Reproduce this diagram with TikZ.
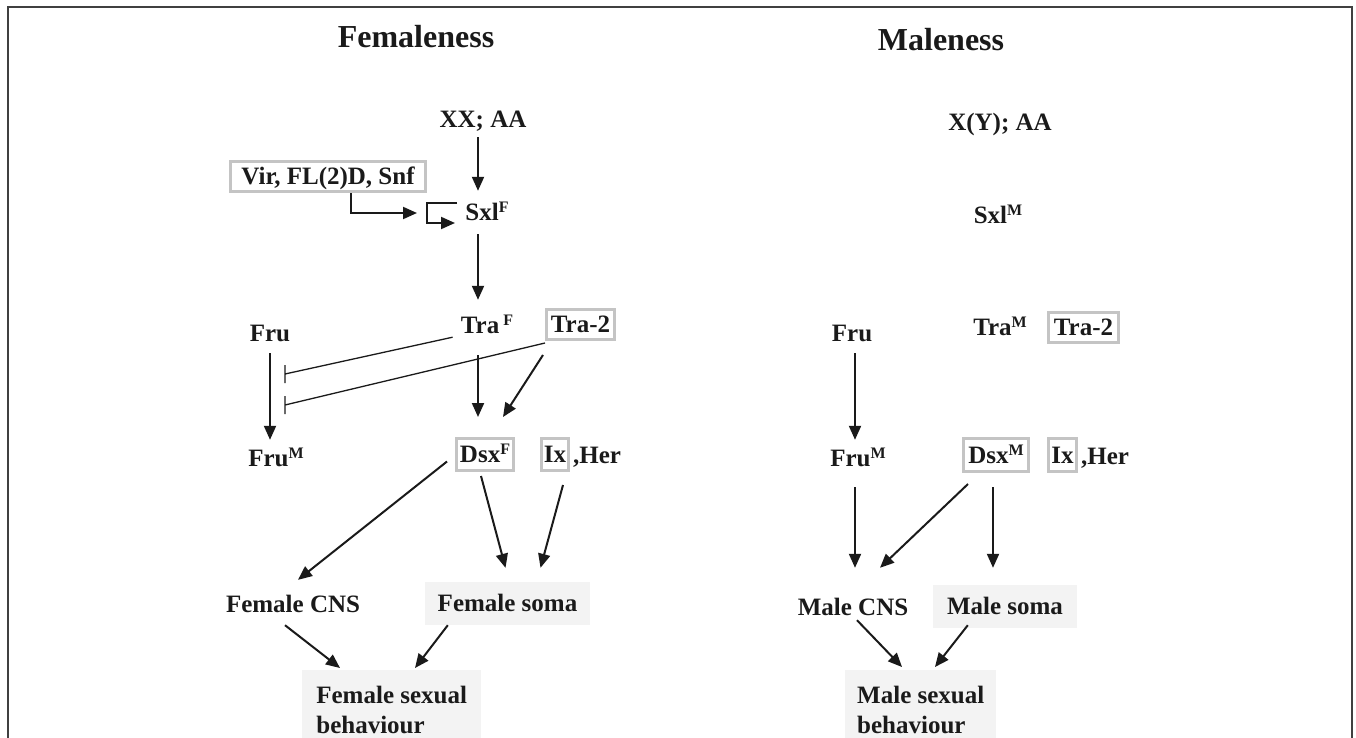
\documentclass[tikz,border=0pt]{standalone}
\usepackage{fontspec}
\setmainfont{Liberation Serif}
\usetikzlibrary{arrows.meta}
\newcommand{\sups}[1]{\raisebox{0.32em}{\fontsize{16}{16}\selectfont #1}}
\definecolor{boxgray}{HTML}{C4C4C4}
\definecolor{softgray}{HTML}{F3F3F3}
\definecolor{ink}{HTML}{1A1A1A}
\begin{document}
\begin{tikzpicture}[x=1pt,y=-1pt,
  lbl/.style={font=\bfseries\fontsize{25}{30}\selectfont, text=ink, text height=19pt, text depth=3pt, inner sep=2pt},
  ttl/.style={font=\bfseries\fontsize{32}{36}\selectfont, text=ink, inner sep=2pt},
  gbox/.style={lbl, draw=boxgray, line width=3pt, inner sep=0pt},
  sbox/.style={lbl, fill=softgray, inner sep=0pt},
  beh/.style={font=\bfseries\fontsize{25}{30}\selectfont, text=ink, fill=softgray, align=left, anchor=north west, minimum height=80pt},
  arr/.style={draw=ink, line width=2pt, -{Triangle[length=14pt,width=12pt]}},
  inh/.style={draw=ink, line width=1.3pt},
  frame/.style={line width=2pt, draw=black!75}
]
\useasboundingbox (0,0) rectangle (1356,738);
\draw[frame] (8,740) -- (8,7) -- (1352,7) -- (1352,740);

% ---------- Femaleness ----------
\node[ttl] (tF) at (416,37) {Femaleness};
\node[lbl] (xx) at (483,120) {XX; AA};
\node[gbox, minimum width=195pt, minimum height=30pt] (vir) at (328,176.5) {Vir, FL(2)D, Snf};
\node[lbl] (sxlF) at (487,212) {Sxl\sups{F}};
\coordinate (prom) at (417,213);
\node[lbl] (traF) at (487,325) {Tra\,\sups{F}};
\node[gbox, minimum width=68pt, minimum height=30pt] (tra2F) at (580.5,324.5) {Tra-2};
\node[lbl] (fruF) at (270,333) {Fru};
\node[lbl] (fruMF) at (276,458) {Fru\sups{M}};
\node[gbox, minimum width=57pt, minimum height=32pt] (dsxF) at (485,454.5) {Dsx\sups{F}};
\node[gbox, minimum width=27pt, minimum height=32pt] (ixF) at (555,454.5) {Ix};
\node[lbl] (herF) at (597,455) {,Her};
\node[lbl] (fcns) at (293,604) {Female CNS};
\node[sbox, minimum width=165pt, minimum height=43pt] (fsoma) at (507.5,603.5) {Female soma};
\node[beh, minimum width=179pt, inner xsep=14pt] (fbeh) at (302,670) {Female sexual\\behaviour};

\draw[arr] ([shift={(-5,4)}]xx.south) -- ([shift={(-9,-8)}]sxlF.north);
\draw[arr] ([shift={(23,0)}]vir.south) |- (prom);
\draw[arr] ([shift={(40,-10)}]prom) -- ([shift={(10,-10)}]prom) -- ([shift={(10,10)}]prom) -- ([shift={(38,10)}]prom);
\draw[arr] ([shift={(-9,9)}]sxlF.south) -- ([shift={(-9,-12)}]traF.north);
\draw[arr] ([shift={(-9,17)}]traF.south) -- ([shift={(-7,-20)}]dsxF.north);
\draw[arr] ([shift={(-2,14)}]tra2F.south west) -- ([shift={(18,-20)}]dsxF.north);
\draw[inh] ([shift={(-6,-1)}]traF.south west) -- ([shift={(15,41)}]fruF.center) ++(0,-9) -- ++(0,18);
\draw[inh] ([shift={(0,2)}]tra2F.south west) -- ([shift={(15,72)}]fruF.center) ++(0,-9) -- ++(0,18);
\draw[arr] ([shift={(0,7)}]fruF.south) -- ([shift={(-6,-5)}]fruMF.north);
\draw[arr] ([shift={(-8,7)}]dsxF.west) -- ([shift={(5,-11)}]fcns.north);
\draw[arr] ([shift={(-4,4)}]dsxF.south) -- ([shift={(-2,-14)}]fsoma.north);
\draw[arr] ([shift={(8,13)}]ixF.south) -- ([shift={(33,-14)}]fsoma.north);
\draw[arr] ([shift={(-8,8)}]fcns.south) -- ([shift={(38,-2)}]fbeh.north west);
\draw[arr] ([shift={(23,0)}]fsoma.south west) -- ([shift={(113,-2)}]fbeh.north west);

% ---------- Maleness ----------
\node[ttl] (tM) at (941,40) {Maleness};
\node[lbl] (xy) at (1000,123) {X(Y); AA};
\node[lbl] (sxlM) at (998,215) {Sxl\sups{M}};
\node[lbl] (traM) at (1000,327) {Tra\sups{M}};
\node[gbox, minimum width=70pt, minimum height=30pt] (tra2M) at (1083.5,327.5) {Tra-2};
\node[lbl] (fruM) at (852,333) {Fru};
\node[lbl] (fruMM) at (858,458) {Fru\sups{M}};
\node[gbox, minimum width=65pt, minimum height=33pt] (dsxM) at (996,455) {Dsx\sups{M}};
\node[gbox, minimum width=28pt, minimum height=33pt] (ixM) at (1062.5,455) {Ix};
\node[lbl] (herM) at (1105,456) {,Her};
\node[lbl] (mcns) at (853,607) {Male CNS};
\node[sbox, minimum width=144pt, minimum height=43pt] (msoma) at (1005,606.5) {Male soma};
\node[beh, minimum width=150pt, inner xsep=12pt] (mbeh) at (845,670) {Male sexual\\behaviour};

\draw[arr] ([shift={(3,7)}]fruM.south) -- ([shift={(-3,-5)}]fruMM.north);
\draw[arr] ([shift={(-3,16)}]fruMM.south) -- ([shift={(2,-26)}]mcns.north);
\draw[arr] ([shift={(6,11)}]dsxM.south west) -- ([shift={(27,-26)}]mcns.north);
\draw[arr] ([shift={(-3,14)}]dsxM.south) -- ([shift={(-12,-17)}]msoma.north);
\draw[arr] ([shift={(4,0)}]mcns.south) -- ([shift={(57,-3)}]mbeh.north west);
\draw[arr] ([shift={(35,-3)}]msoma.south west) -- ([shift={(90,-3)}]mbeh.north west);
\end{tikzpicture}
\end{document}
